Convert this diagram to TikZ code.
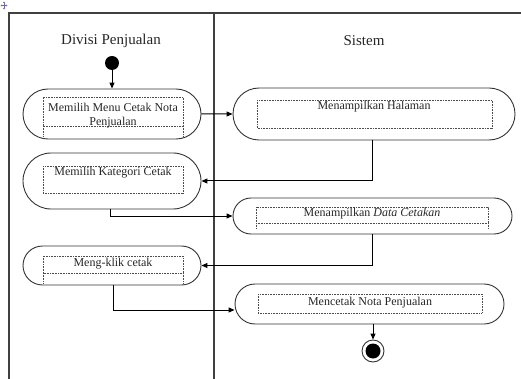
\documentclass[tikz,border=0pt]{standalone}
\usepackage{fontspec}
\setmainfont{Liberation Serif}
\usetikzlibrary{shapes.misc,arrows.meta}

\tikzset{
  frame/.style={line width=1.3pt, draw=black!75},
  act/.style={rounded rectangle, draw=black!80, line width=0.9pt, inner sep=0pt},
  inbox/.style={draw=black!70, line width=0.6pt, dash pattern=on 0.8pt off 0.8pt},
  acttext/.style={font=\fontsize{12}{14.5}\selectfont, text=black!85, inner sep=0pt, align=center},
  title/.style={font=\fontsize{15}{18}\selectfont, text=black!85, inner sep=0pt},
  flow/.style={draw=black, line width=1pt, -{Triangle[length=6pt,width=5pt]}},
  startdot/.style={circle, fill=black, minimum size=14pt, inner sep=0pt},
  endring/.style={circle, draw=black!80, line width=0.9pt, minimum size=22pt, inner sep=0pt},
  handle/.style={draw=black!45!blue!60, line width=0.5pt, -{Triangle[length=1.5pt,width=1.8pt]}}
}

\begin{document}
\begin{tikzpicture}[x=1pt, y=-1pt]
\useasboundingbox (0,0) rectangle (521,379);

% table move handle
\coordinate (hc) at (4,5.5);
\draw[handle] (hc) -- ++(0,-4);
\draw[handle] (hc) -- ++(0,4);
\draw[handle] (hc) -- ++(-3.5,0);
\draw[handle] (hc) -- ++(3.5,0);

% swimlane frame
\draw[frame] (9,379) -- (9,13) -- (521,13);
\draw[frame] (214,13) -- (214,379);

% lane titles
\node[title] (tdiv) at (111,41) {Divisi Penjualan};
\node[title] (tsys) at (364,41) {Sistem};

% initial node
\node[startdot] (start) at (112,63) {};

% activities
\node[act, minimum width=178pt, minimum height=50pt] (a1) at (112,114) {};
\node[act, minimum width=282pt, minimum height=52pt] (a2) at (374,114) {};
\node[act, minimum width=178pt, minimum height=56pt] (a3) at (112,181) {};
\node[act, minimum width=279pt, minimum height=36pt] (a4) at (372.5,216) {};
\node[act, minimum width=178pt, minimum height=39pt] (a5) at (112,265.5) {};
\node[act, minimum width=269pt, minimum height=40pt] (a6) at (369.5,304) {};

% dotted text frames inside the activities
\draw[inbox] (43,126) -- (43,97) -- (183,97) -- (183,126) -- cycle;
\draw[inbox] (43,126) -- (43,136) (183,126) -- (183,136);
\draw[inbox] (257,100) rectangle (492,128);
\draw[inbox] (43,166) rectangle (183,193);
\draw[inbox] (256,207) rectangle (488,223);
\draw[inbox] (256,223) -- (256,228) (488,223) -- (488,228);
\draw[inbox] (43,256) rectangle (183,273);
\draw[inbox] (43,273) -- (43,283) (183,273) -- (183,283);
\draw[inbox] (258,294) rectangle (482,313);

% activity labels
\node[acttext] (l1) at (113,115.5) {Memilih Menu Cetak Nota\\Penjualan};
\node[acttext] (l2) at (374,107) {Menampilkan Halaman};
\node[acttext] (l3) at (113,173) {Memilih Kategori Cetak};
\node[acttext] (l4) at (372,214) {Menampilkan \textit{Data Cetakan}};
\node[acttext] (l5) at (113,264) {Meng-klik cetak};
\node[acttext] (l6) at (370,303) {Mencetak Nota Penjualan};

% final node
\node[endring] (end) at (373,351) {};
\fill[black] (end.center) circle (7.5pt);

% control flow
\draw[flow] (start) -- (a1);
\draw[flow] (a1) -- (a2);
\draw[flow] ([xshift=-2pt]a2.south) |- (a3.east);
\draw[flow] ([xshift=-2pt]a3.south) |- (a4.west);
\draw[flow] (a4.south) |- (a5.east);
\draw[flow] ([xshift=1pt]a5.south) |- ([yshift=-6pt]a6.west);
\draw[flow] ([xshift=3.5pt]a6.south) -- ([xshift=0pt]end.north);
\end{tikzpicture}
\end{document}
